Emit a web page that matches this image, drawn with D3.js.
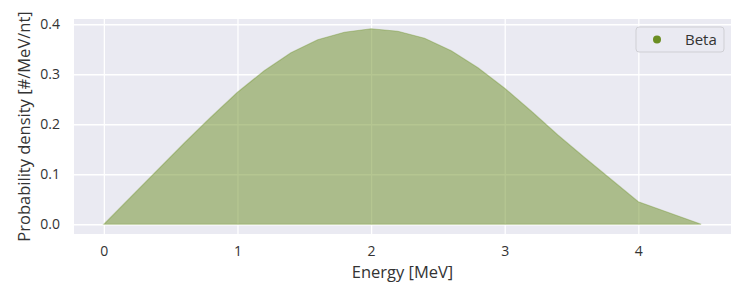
<!DOCTYPE html>
<html>
<head>
<meta charset="utf-8">
<script src="https://cdn.jsdelivr.net/npm/d3@7"></script>
<style>
  body { margin: 0; background: #fff; }
  svg text { font-family: "Open Sans", sans-serif; fill: #333; }
</style>
</head>
<body>
<div id="chart"></div>
<script>
// beta spectrum
const energy = [0, 0.2, 0.4, 0.6, 0.8, 1.0, 1.2, 1.4, 1.6, 1.8, 2.0, 2.2, 2.4, 2.6, 2.8, 3.0, 3.2, 3.4, 3.6, 3.8, 4.0, 4.47];
const density = [0, 0.054, 0.108, 0.162, 0.214, 0.264, 0.307, 0.343, 0.369, 0.384, 0.391, 0.386, 0.372, 0.347, 0.313, 0.272, 0.226, 0.178, 0.133, 0.089, 0.045, 0];
const xTicks = [0, 1, 2, 3, 4];
const yTicks = [0, 0.1, 0.2, 0.3, 0.4];
const seriesName = "Beta";

const width = 750, height = 300;
const margin = {top: 19, right: 19, bottom: 66, left: 74};
const color = "#6b8e23";

const svg = d3.select("#chart").append("svg")
    .attr("width", width)
    .attr("height", height);

// matplotlib style 5% margins
const xMax = d3.max(energy), yMax = d3.max(density);
const x = d3.scaleLinear()
    .domain([-0.05 * xMax, xMax * 1.05])
    .range([margin.left, width - margin.right]);
const y = d3.scaleLinear()
    .domain([-0.05 * yMax, yMax * 1.05])
    .range([height - margin.bottom, margin.top]);

// background
svg.append("rect")
    .attr("x", margin.left)
    .attr("y", margin.top)
    .attr("width", width - margin.left - margin.right)
    .attr("height", height - margin.top - margin.bottom)
    .attr("fill", "#eaeaf2");

// grid
svg.append("g")
    .attr("transform", `translate(0,${height - margin.bottom})`)
    .call(d3.axisBottom(x).tickValues(xTicks).tickSize(-(height - margin.top - margin.bottom)).tickFormat(d3.format("d")).tickPadding(10))
    .call(g => g.select(".domain").remove())
    .call(g => g.selectAll("line").attr("stroke", "#fff").attr("stroke-width", 1.3))
    .call(g => g.selectAll("text").style("font-size", "14px").attr("dy", "0.85em"));

svg.append("g")
    .attr("transform", `translate(${margin.left},0)`)
    .call(d3.axisLeft(y).tickValues(yTicks).tickSize(-(width - margin.left - margin.right)).tickFormat(d3.format(".1f")).tickPadding(14))
    .call(g => g.select(".domain").remove())
    .call(g => g.selectAll("line").attr("stroke", "#fff").attr("stroke-width", 1.3))
    .call(g => g.selectAll("text").style("font-size", "14px"));

// filled area
const area = d3.area()
    .x((d, i) => x(energy[i]))
    .y0(y(0))
    .y1(d => y(d));

svg.append("path")
    .datum(density)
    .attr("d", area)
    .attr("fill", color)
    .attr("fill-opacity", 0.5)
    .attr("stroke", color)
    .attr("stroke-opacity", 0.35)
    .attr("stroke-width", 1.2);

// axis labels
svg.append("text")
    .attr("x", (margin.left + width - margin.right) / 2)
    .attr("y", 278)
    .attr("text-anchor", "middle")
    .style("font-size", "16.5px")
    .text("Energy [MeV]");

svg.append("text")
    .attr("transform", `translate(30,${(margin.top + height - margin.bottom) / 2}) rotate(-90)`)
    .attr("text-anchor", "middle")
    .style("font-size", "16.5px")
    .text("Probability density [#/MeV/nt]");

// legend
const legend = svg.append("g").attr("transform", "translate(636,27)");
legend.append("rect")
    .attr("width", 88)
    .attr("height", 25)
    .attr("rx", 3)
    .attr("fill", "#eaeaf2")
    .attr("stroke", "#cfcfd4")
    .attr("stroke-width", 1);
legend.append("circle")
    .attr("cx", 21)
    .attr("cy", 12.5)
    .attr("r", 4)
    .attr("fill", color);
legend.append("text")
    .attr("x", 49)
    .attr("y", 12.5)
    .attr("dy", "0.35em")
    .style("font-size", "15px")
    .text(seriesName);
</script>
</body>
</html>
